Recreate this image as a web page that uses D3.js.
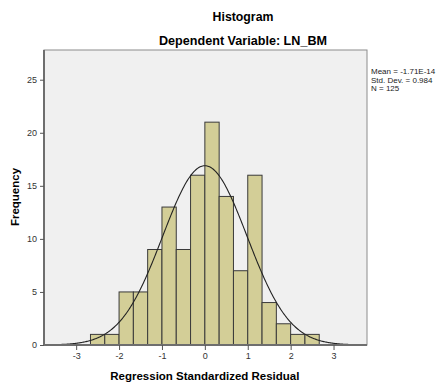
<!DOCTYPE html>
<html>
<head>
<meta charset="utf-8">
<script src="https://cdn.jsdelivr.net/npm/d3@7"></script>
<style>
body { margin: 0; background: #fff; }
#container { width: 438px; height: 383px; }
text { font-family: Arial, "Liberation Sans", sans-serif; }
</style>
</head>
<body>
<div id="container"></div>
<script>
// histogram bins (start of each bin, width 1/3) and counts
var binStarts = [-8/3, -7/3, -2, -5/3, -4/3, -1, -2/3, -1/3, 0, 1/3, 2/3, 1, 4/3, 5/3, 2, 7/3];
var counts = [1, 1, 5, 5, 9, 13, 9, 16, 21, 14, 7, 16, 4, 2, 1, 1];
var binWidth = 1/3;
var xTicks = [-3, -2, -1, 0, 1, 2, 3];
var yTicks = [0, 5, 10, 15, 20, 25];
var statMean = -1.71e-14, statSd = 0.984, statN = 125;
var statLabels = ['Mean = -1.71E-14', 'Std. Dev. = 0.984', 'N = 125'];

var margin = { top: 50, right: 71, bottom: 38, left: 44 };
var width = 438 - margin.left - margin.right,
	height = 383 - margin.top - margin.bottom;

var svg = d3.select('#container').append('svg')
	.attr('width', 438)
	.attr('height', 383);

var g = svg.append('g')
	.attr('transform', 'translate(' + margin.left + ',' + margin.top + ')');

var x = d3.scaleLinear().domain([-3.75, 3.78]).range([0, width]);
var y = d3.scaleLinear().domain([0, 27.8]).range([height, 0]);

// plot background
g.append('rect')
	.attr('x', 0)
	.attr('y', 0)
	.attr('width', width)
	.attr('height', height)
	.style('fill', '#f0f0f0')
	.attr('stroke', '#8c8c8c')
	.attr('stroke-width', 1);

// bars
g.selectAll('rect.bar')
	.data(counts)
	.enter().append('rect')
	.attr('class', 'bar')
	.attr('x', function(d, i) { return x(binStarts[i]); })
	.attr('y', function(d) { return y(d); })
	.attr('width', function(d, i) { return x(binStarts[i] + binWidth) - x(binStarts[i]); })
	.attr('height', function(d) { return y(0) - y(d); })
	.style('fill', '#d3ce97')
	.attr('stroke', '#3a3a3a')
	.attr('stroke-width', 1);

// fitted normal curve
var curvePts = d3.range(-3.75, 3.781, 0.02).map(function(v) {
	var z = (v - statMean) / statSd;
	return [v, statN * binWidth * Math.exp(-0.5 * z * z) / (statSd * Math.sqrt(2 * Math.PI))];
});
g.append('path')
	.datum(curvePts)
	.attr('d', d3.line().x(function(d) { return x(d[0]); }).y(function(d) { return y(d[1]); }))
	.style('fill', 'none')
	.attr('stroke', '#222')
	.attr('stroke-width', 1.1);

// axes
var fmt = function(d) { return String(d); };
var xAxis = g.append('g')
	.attr('transform', 'translate(0,' + height + ')')
	.call(d3.axisBottom(x).tickValues(xTicks).tickSize(5).tickFormat(fmt));
var yAxis = g.append('g')
	.call(d3.axisLeft(y).tickValues(yTicks).tickSize(4).tickFormat(fmt));

[xAxis, yAxis].forEach(function(a) {
	a.select('.domain').attr('stroke', '#6e6e6e').attr('stroke-width', 2);
	a.selectAll('.tick line').attr('stroke', '#555');
	a.selectAll('.tick text')
		.style('font-family', 'Arial, "Liberation Sans", sans-serif')
		.style('font-size', '9px')
		.style('fill', '#333');
});
xAxis.select('.domain').attr('d', 'M0,0H' + width);
yAxis.select('.domain').attr('d', 'M0,0V' + height);

// titles
svg.append('text')
	.attr('x', 243).attr('y', 21)
	.attr('text-anchor', 'middle')
	.style('font-size', '12.3px').style('font-weight', 'bold')
	.text('Histogram');
svg.append('text')
	.attr('x', 243).attr('y', 45)
	.attr('text-anchor', 'middle')
	.style('font-size', '12.6px').style('font-weight', 'bold')
	.text('Dependent Variable: LN_BM');

// axis titles
svg.append('text')
	.attr('x', margin.left + x(0)).attr('y', 380)
	.attr('text-anchor', 'middle')
	.style('font-size', '11.5px').style('font-weight', 'bold')
	.text('Regression Standardized Residual');
svg.append('text')
	.attr('transform', 'translate(19,197) rotate(-90)')
	.attr('text-anchor', 'middle')
	.style('font-size', '11.5px').style('font-weight', 'bold')
	.text('Frequency');

// stats box
svg.selectAll('text.stat')
	.data(statLabels)
	.enter().append('text')
	.attr('class', 'stat')
	.attr('x', 371)
	.attr('y', function(d, i) { return 74 + i * 8.5; })
	.style('font-size', '8px')
	.style('fill', '#222')
	.text(function(d) { return d; });
</script>
</body>
</html>
